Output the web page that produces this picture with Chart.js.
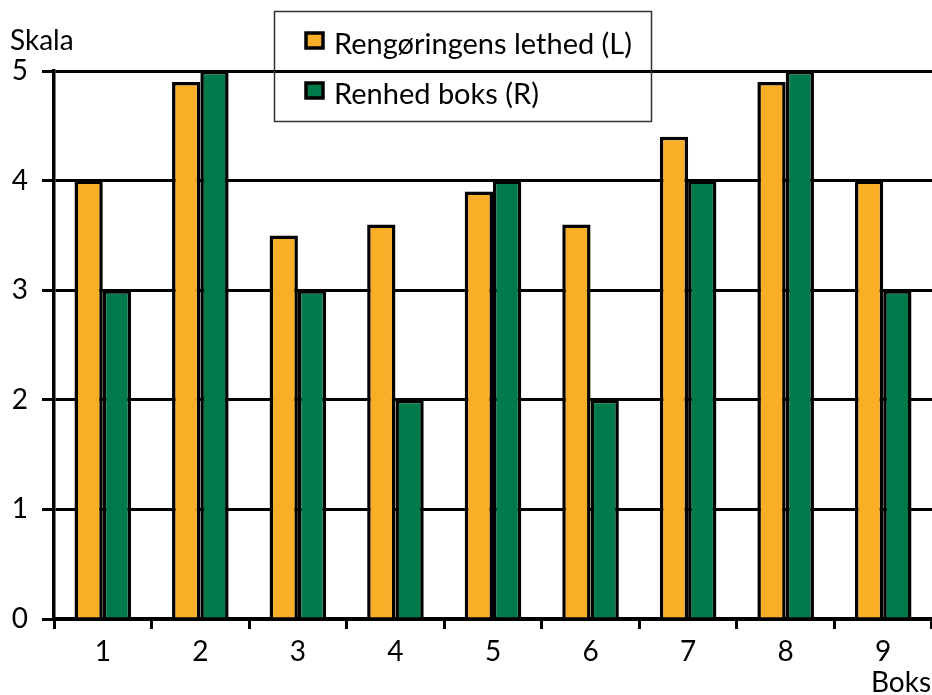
<!DOCTYPE html>
<html>
<head>
<meta charset="utf-8">
<script src="https://cdn.jsdelivr.net/npm/chart.js@4"></script>
<style>
  html, body { margin: 0; padding: 0; background: #fff; }
  #wrap { width: 932px; height: 695px; position: relative; }
</style>
</head>
<body>
<div id="wrap"><canvas id="mycanvas"></canvas></div>
<script>
// Boks 1-9, score on a 0-5 scale
var boks = ['1', '2', '3', '4', '5', '6', '7', '8', '9'];
var rengoring = [4.0, 4.9, 3.5, 3.6, 3.9, 3.6, 4.4, 4.9, 4.0];
var renhed = [3, 5, 3, 2, 4, 2, 4, 5, 3];
var yTicks = [0, 1, 2, 3, 4, 5];

var FONT = 'Lato, "Open Sans", sans-serif';
var orange = '#F9AE27';
var green = '#007A4A';

// legend box + axis captions drawn by hand
var extras = {
  id: 'extras',
  afterDraw: function(chart) {
    var ctx = chart.ctx;
    ctx.save();
    ctx.fillStyle = '#000';
    ctx.font = '28px ' + FONT;
    ctx.textBaseline = 'alphabetic';
    ctx.textAlign = 'left';
    ctx.fillText('Skala', 10, 50);
    ctx.textAlign = 'right';
    ctx.fillText('Boks', 931, 692);

    // legend
    ctx.lineWidth = 1.5;
    ctx.strokeStyle = '#333';
    ctx.strokeRect(274.5, 11.5, 377, 110);
    var rows = [54, 104];
    chart.data.datasets.forEach(function(ds, i) {
      var y = rows[i];
      ctx.fillStyle = ds.backgroundColor;
      ctx.fillRect(306, y - 21, 17, 15);
      ctx.lineWidth = 3.5;
      ctx.strokeStyle = '#000';
      ctx.strokeRect(306, y - 21, 17, 15);
      ctx.fillStyle = '#000';
      ctx.textAlign = 'left';
      ctx.font = '29px ' + FONT;
      ctx.fillText(ds.label, 334, y, i === 0 ? 298 : 400);
    });
    ctx.restore();
  }
};

var chartdata = {
  labels: boks,
  datasets: [
    {
      label: 'Rengøringens lethed (L)',
      backgroundColor: orange,
      borderColor: '#000',
      borderWidth: 3.5,
      data: rengoring,
      clip: false
    },
    {
      label: 'Renhed boks (R)',
      backgroundColor: green,
      borderColor: '#000',
      borderWidth: 3.5,
      data: renhed,
      clip: false
    }
  ]
};

var ctx = document.getElementById('mycanvas');

var barGraph = new Chart(ctx, {
  type: 'bar',
  data: chartdata,
  plugins: [extras],
  options: {
    responsive: true,
    maintainAspectRatio: false,
    animation: false,
    devicePixelRatio: 1,
    layout: { padding: { top: 71, right: 0, left: 0, bottom: 0 } },
    datasets: {
      bar: { categoryPercentage: 0.58, barPercentage: 1.0 }
    },
    plugins: {
      legend: { display: false },
      tooltip: { enabled: false }
    },
    scales: {
      x: {
        grid: {
          display: true,
          drawOnChartArea: false,
          offset: true,
          tickLength: 10,
          color: '#000',
          lineWidth: 3
        },
        border: { display: true, color: '#000', width: 3.5 },
        ticks: { color: '#000', font: { family: FONT, size: 28 }, padding: 6 },
        afterFit: function(scale) { scale.height = 76; }
      },
      y: {
        min: 0,
        max: 5,
        afterBuildTicks: function(scale) {
          scale.ticks = yTicks.map(function(v) { return { value: v }; });
        },
        grid: {
          color: '#000',
          lineWidth: 3,
          tickLength: 12
        },
        border: { display: true, color: '#000', width: 3.5 },
        ticks: { color: '#000', font: { family: FONT, size: 28 }, padding: 14 },
        afterFit: function(scale) { scale.width = 54; }
      }
    }
  }
});
</script>
</body>
</html>
